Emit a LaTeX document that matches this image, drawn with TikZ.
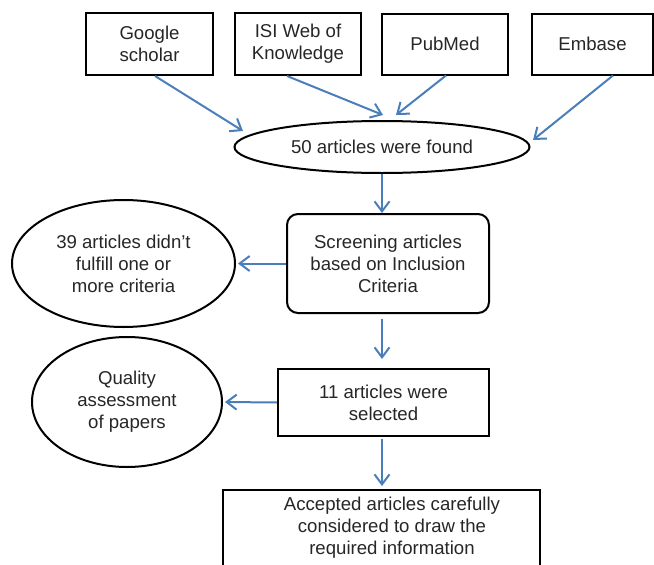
\documentclass[tikz,border=0pt]{standalone}
\usepackage{fontspec}
\setmainfont{Liberation Sans}
\usetikzlibrary{arrows.meta,shapes.geometric}
\definecolor{arrowblue}{HTML}{4A7EBB}
\definecolor{txt}{HTML}{262626}
\begin{document}
\begin{tikzpicture}[x=1pt,y=-1pt,
  every node/.style={font=\fontsize{18.6}{22}\selectfont, text=txt, align=center, inner sep=0pt},
  box/.style={draw=black, line width=2pt, rectangle},
  oval/.style={draw=black, line width=2pt, ellipse},
  conn/.style={draw=arrowblue, line width=2pt, -{Straight Barb[length=10pt,width=15pt,line width=2pt]}}
]
\useasboundingbox (0,0) rectangle (654,565);

\node[box, minimum width=127, minimum height=62] (g) at (149.5,44) {Google\\scholar};
\node[box, minimum width=126, minimum height=62] (isi) at (298,44) {ISI Web of\\Knowledge};
\node[box, minimum width=126, minimum height=61] (pm) at (445,44) {PubMed};
\node[box, minimum width=121, minimum height=61] (em) at (592.5,44) {Embase};

\node[oval, minimum width=295, minimum height=52] (found) at (382,147) {50 articles were found};

\node[box, rounded corners=11pt, minimum width=202, minimum height=99] (scr) at (388,263.5) {Screening articles\\based on Inclusion\\Criteria};
\node[oval, minimum width=223, minimum height=127] (c39) at (123.5,263.5) {39 articles didn’t\\fulfill one or\\more criteria};

\node[box, minimum width=211, minimum height=67] (sel) at (383.5,402.5) {11 articles were\\selected};
\node[oval, minimum width=190, minimum height=130] (q) at (127,402) {Quality\\assessment\\of papers};

\node[box, minimum width=317, minimum height=110] (fin) at (381.5,545) {};
\node (fintext) at (392,528) {Accepted articles carefully\\considered to draw the\\required information};

\coordinate (e1) at (243,131);
\coordinate (e2) at (383,115);
\coordinate (e3) at (396,115);
\coordinate (e4) at (533,140);

\draw[conn] ([xshift=5.5pt]g.south) -- (e1);
\draw[conn] ([xshift=-11pt]isi.south) -- (e2);
\draw[conn] ([xshift=1pt]pm.south) -- (e3);
\draw[conn] ([xshift=20.5pt]em.south) -- (e4);

\draw[conn] (found.south) -- (found.south |- scr.north);
\draw[conn] ([yshift=-5pt]scr.south -| found.south) -- ([yshift=9pt]sel.north -| found.south);
\draw[conn] ([yshift=-2pt]sel.south -| found.south) -- ([yshift=3pt]fin.north -| found.south);
\draw[conn] (scr.west) -- ([xshift=2pt]c39.east);
\draw[conn] (sel.west) -- ([xshift=2pt]q.east);
\end{tikzpicture}
\end{document}
